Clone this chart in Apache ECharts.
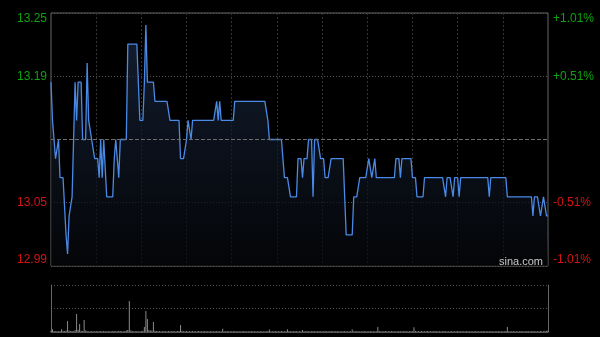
<!DOCTYPE html>
<html><head><meta charset="utf-8">
<script src="https://cdn.jsdelivr.net/npm/echarts@6/dist/echarts.min.js"></script>
<style>html,body{margin:0;padding:0;background:#000;}#c{width:600px;height:337px;}</style>
</head><body><div id="c"></div>
<script>
// previous close and price axis
const prevClose = 13.12;
const priceMin = 12.9875;
const priceMax = 13.2525;
const priceStep = 0.06625;
const leftTickLabels = ['12.99', '13.05', '', '13.19', '13.25'];
const rightTickLabels = ['-1.01%', '-0.51%', '', '+0.51%', '+1.01%'];

// minute-by-minute price (09:30 - 16:00, 330 minutes)
const prices = [
13.18,13.14,13.12,13.10,13.10,13.12,13.08,13.08,13.08,13.08,
13.02,13.00,13.04,13.04,13.06,13.06,13.18,13.14,13.18,13.18,
13.18,13.12,13.12,13.12,13.20,13.14,13.14,13.12,13.12,13.10,
13.10,13.10,13.08,13.12,13.08,13.12,13.12,13.06,13.06,13.06,
13.06,13.06,13.10,13.12,13.10,13.08,13.12,13.12,13.12,13.12,
13.12,13.22,13.22,13.22,13.22,13.22,13.22,13.22,13.22,13.14,
13.14,13.14,13.18,13.24,13.18,13.18,13.18,13.18,13.18,13.16,
13.16,13.16,13.16,13.16,13.16,13.16,13.16,13.16,13.16,13.14,
13.14,13.14,13.14,13.14,13.14,13.14,13.10,13.10,13.10,13.10,
13.12,13.14,13.14,13.12,13.14,13.14,13.14,13.14,13.14,13.14,
13.14,13.14,13.14,13.14,13.14,13.14,13.14,13.14,13.14,13.14,
13.16,13.14,13.16,13.14,13.14,13.14,13.14,13.14,13.14,13.14,
13.14,13.14,13.16,13.16,13.16,13.16,13.16,13.16,13.16,13.16,
13.16,13.16,13.16,13.16,13.16,13.16,13.16,13.16,13.16,13.16,
13.16,13.16,13.16,13.16,13.14,13.12,13.12,13.12,13.12,13.12,
13.12,13.12,13.12,13.12,13.10,13.08,13.08,13.08,13.08,13.06,
13.06,13.06,13.06,13.06,13.10,13.10,13.10,13.08,13.10,13.10,
13.10,13.12,13.12,13.12,13.06,13.12,13.12,13.12,13.12,13.10,
13.10,13.10,13.08,13.08,13.08,13.08,13.10,13.10,13.10,13.10,
13.10,13.10,13.10,13.10,13.10,13.06,13.02,13.02,13.02,13.02,
13.02,13.06,13.06,13.06,13.06,13.08,13.08,13.08,13.08,13.08,
13.08,13.10,13.10,13.08,13.08,13.10,13.08,13.08,13.08,13.08,
13.08,13.08,13.08,13.08,13.08,13.08,13.08,13.08,13.08,13.10,
13.10,13.10,13.08,13.10,13.10,13.10,13.10,13.10,13.10,13.10,
13.08,13.08,13.08,13.06,13.06,13.06,13.06,13.06,13.08,13.08,
13.08,13.08,13.08,13.08,13.08,13.08,13.08,13.08,13.08,13.08,
13.08,13.08,13.06,13.08,13.08,13.08,13.08,13.06,13.08,13.08,
13.08,13.06,13.08,13.08,13.08,13.08,13.08,13.08,13.08,13.08,
13.08,13.08,13.08,13.08,13.08,13.08,13.08,13.08,13.08,13.08,
13.08,13.06,13.08,13.08,13.08,13.08,13.08,13.08,13.08,13.08,
13.08,13.08,13.08,13.06,13.06,13.06,13.06,13.06,13.06,13.06,
13.06,13.06,13.06,13.06,13.06,13.06,13.06,13.06,13.06,13.06,
13.04,13.06,13.06,13.06,13.06,13.04,13.04,13.06,13.06,13.04,
13.04
];

// minute volumes (arbitrary units)
const volumes = [
40,85,30,25,35,20,30,85,40,30,
45,351,50,35,30,25,60,574,70,255,
40,30,383,45,35,25,20,30,25,20,
30,25,20,35,25,30,20,25,30,20,
25,35,30,20,25,40,30,25,20,30,
45,60,989,50,35,25,20,30,25,20,
30,40,160,670,415,60,45,50,319,40,
30,25,35,20,25,30,20,25,30,20,
25,30,20,25,35,30,223,40,25,20,
30,25,20,25,30,20,25,20,30,25,
20,25,30,20,25,20,30,25,20,25,
30,20,25,20,100,25,20,30,25,20,
25,20,30,25,20,25,20,25,30,20,
25,20,25,30,20,25,20,25,20,30,
25,20,25,20,30,80,25,20,25,30,
20,25,20,30,25,20,25,90,30,25,
20,25,30,20,25,20,25,60,25,20,
30,25,20,25,30,20,25,20,30,25,
20,25,30,20,25,20,30,25,20,25,
30,20,25,20,25,30,20,25,20,25,
80,25,20,30,25,20,25,20,30,25,
20,25,30,20,25,20,25,160,30,25,
20,25,30,20,25,20,30,25,20,25,
20,30,25,20,25,30,20,25,20,30,
25,150,30,20,25,20,30,25,20,25,
30,20,25,20,25,30,20,25,20,25,
20,30,25,20,25,20,30,25,20,25,
30,20,25,20,25,20,30,25,20,25,
20,25,30,20,25,20,25,30,20,25,
25,20,30,25,20,25,20,30,25,20,
25,20,30,160,25,20,25,30,20,25,
20,25,30,20,25,20,30,25,20,25,
30,20,25,20,25,30,20,25,40,30,
45
];

const GREEN = '#0fa30f';
const RED = '#d41414';
const priceData = prices.map((v, i) => [i, v]);
const volData = volumes.map((v, i) => [i, v]);
const labelColor = (v, i) => (i >= 3 ? GREEN : RED);
const font = 'Liberation Sans';

const chart = echarts.init(document.getElementById('c'), null, { renderer: 'canvas' });
chart.setOption({
  backgroundColor: '#000',
  animation: false,
  grid: [
    { left: 51, top: 13, width: 497, height: 253, show: true, borderColor: '#666', borderWidth: 1, backgroundColor: 'transparent' },
    { left: 51, top: 285, width: 497, height: 47 }
  ],
  xAxis: [
    { type: 'value', gridIndex: 0, min: 0, max: 330, interval: 30,
      axisLine: { show: false }, axisTick: { show: false }, axisLabel: { show: false },
      splitLine: { show: true, showMinLine: false, showMaxLine: false, lineStyle: { color: '#333', type: [2, 2], width: 1 } } },
    { type: 'value', gridIndex: 1, min: 0, max: 330,
      axisLine: { show: true, onZero: false, lineStyle: { color: '#555', width: 1 } }, axisTick: { show: false }, axisLabel: { show: false }, splitLine: { show: false } }
  ],
  yAxis: [
    { type: 'value', gridIndex: 0, position: 'left', min: priceMin, max: priceMax, interval: priceStep,
      axisLine: { show: false }, axisTick: { show: false },
      axisLabel: { margin: 4, fontSize: 12, fontFamily: font, color: labelColor,
        verticalAlignMinLabel: 'bottom', verticalAlignMaxLabel: 'top',
        formatter: (v, i) => leftTickLabels[i] },
      splitLine: { show: true, lineStyle: { color: '#555', type: [1, 2], width: 1 } } },
    { type: 'value', gridIndex: 0, position: 'right', min: priceMin, max: priceMax, interval: priceStep,
      axisLine: { show: false }, axisTick: { show: false },
      axisLabel: { margin: 5, fontSize: 12, fontFamily: font, color: labelColor,
        verticalAlignMinLabel: 'bottom', verticalAlignMaxLabel: 'top',
        formatter: (v, i) => rightTickLabels[i] },
      splitLine: { show: false } },
    { type: 'value', gridIndex: 1, position: 'left', min: 0, max: 1500, interval: 750,
      axisLine: { show: true, lineStyle: { color: '#666', width: 1 } }, axisTick: { show: false }, axisLabel: { show: false },
      splitLine: { show: true, showMinLine: false, lineStyle: { color: '#555', type: [1, 2], width: 1 } } },
    { type: 'value', gridIndex: 1, position: 'right', min: 0, max: 1500, interval: 750,
      axisLine: { show: true, lineStyle: { color: '#666', width: 1 } }, axisTick: { show: false }, axisLabel: { show: false },
      splitLine: { show: false } }
  ],
  series: [
    { type: 'line', xAxisIndex: 0, yAxisIndex: 0, data: priceData, symbol: 'none', silent: true,
      lineStyle: { color: '#4a8ae6', width: 1.3 },
      areaStyle: { origin: 'start', color: new echarts.graphic.LinearGradient(0, 0, 0, 1, [
        { offset: 0, color: '#1b2a44' }, { offset: 1, color: '#05070a' }]) },
      markLine: { silent: true, symbol: 'none', label: { show: false },
        lineStyle: { color: '#6e6e6e', type: [4, 2], width: 1 },
        data: [{ yAxis: prevClose }] } },
    { type: 'bar', xAxisIndex: 1, yAxisIndex: 2, data: volData, barWidth: 1, silent: true,
      itemStyle: { color: '#8a8a8a' } }
  ],
  graphic: [
    { type: 'text', left: 499, top: 256, z: 100, style: { text: 'sina.com', fill: '#c8c8c8', font: '11px "Liberation Sans"' } }
  ]
});
</script></body></html>
